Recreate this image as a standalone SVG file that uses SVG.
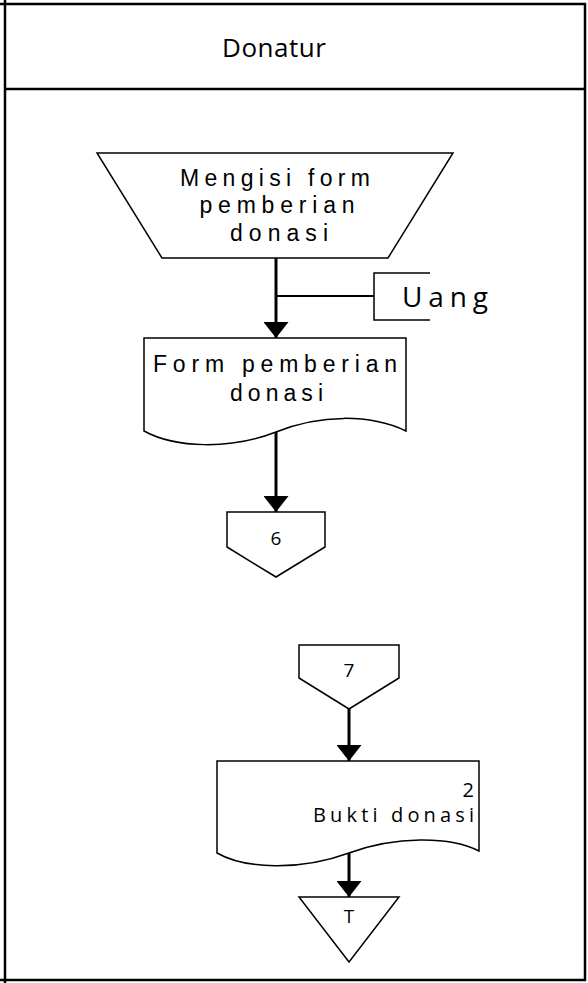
<svg xmlns="http://www.w3.org/2000/svg" width="588" height="983" viewBox="0 0 588 983">
  <style>
    .shape { fill: #ffffff; stroke: #000000; stroke-width: 1.5; }
    .frame { fill: none; stroke: #000000; stroke-width: 2.5; }
    .conn { fill: none; stroke: #000000; stroke-width: 3; }
    .thin { fill: none; stroke: #000000; stroke-width: 2; }
    text { font-family: "Open Sans", "Liberation Sans", Arial, sans-serif; fill: #000000; }
    .ls { font-family: "Liberation Sans", Arial, sans-serif; }
  </style>
  <defs>
    <marker id="arrow" viewBox="0 0 16 25" refX="16" refY="12.5" markerWidth="16" markerHeight="25" markerUnits="userSpaceOnUse" orient="auto">
      <path d="M0,0 L16,12.5 L0,25 Z" fill="#000000"/>
    </marker>
  </defs>
  <rect width="588" height="983" fill="#ffffff"/>

  <g id="swimlane">
    <line class="frame" x1="5" y1="0" x2="5" y2="983"/>
    <line class="frame" x1="0" y1="4" x2="586" y2="4"/>
    <line class="frame" x1="585" y1="3" x2="585" y2="981"/>
    <line class="frame" x1="0" y1="980" x2="586" y2="980"/>
    <line class="frame" x1="5" y1="89" x2="585" y2="89"/>
    <text x="274" y="57" font-size="26" text-anchor="middle" textLength="104" lengthAdjust="spacing">Donatur</text>
  </g>

  <g id="connectors">
    <line class="conn" x1="276" y1="258" x2="276" y2="338" marker-end="url(#arrow)"/>
    <line class="thin" x1="276" y1="296" x2="374" y2="296"/>
    <line class="conn" x1="276" y1="432" x2="276" y2="512" marker-end="url(#arrow)"/>
    <line class="conn" x1="349" y1="709" x2="349" y2="761" marker-end="url(#arrow)"/>
    <line class="conn" x1="349" y1="853" x2="349" y2="897" marker-end="url(#arrow)"/>
  </g>

  <g id="manual-input">
    <polygon class="shape" points="97,153 453,153 388,258 162,258"/>
    <text class="ls" x="275" y="186" font-size="23" text-anchor="middle" textLength="190" lengthAdjust="spacing">Mengisi form</text>
    <text class="ls" x="277" y="213" font-size="23" text-anchor="middle" textLength="155" lengthAdjust="spacing">pemberian</text>
    <text class="ls" x="279" y="241" font-size="23" text-anchor="middle" textLength="98" lengthAdjust="spacing">donasi</text>
  </g>

  <g id="uang">
    <path class="shape" style="fill:none" d="M430,273 H374 V320 H430"/>
    <text x="445" y="307" font-size="28" text-anchor="middle" textLength="86" lengthAdjust="spacing">Uang</text>
  </g>

  <g id="doc-form">
    <path class="shape" d="M144,338 H406 V431 C370,414 320,414 276,432 C230,450 175,448 144,431 Z"/>
    <text class="ls" x="275" y="372" font-size="23" text-anchor="middle" textLength="244" lengthAdjust="spacing">Form pemberian</text>
    <text class="ls" x="276.5" y="401" font-size="23" text-anchor="middle" textLength="93" lengthAdjust="spacing">donasi</text>
  </g>

  <g id="offpage-6">
    <polygon class="shape" points="227,512 325,512 325,547 276,577 227,547"/>
    <text x="276" y="545" font-size="19" text-anchor="middle">6</text>
  </g>

  <g id="offpage-7">
    <polygon class="shape" points="299,645 399,645 399,678 349,709 299,678"/>
    <text x="349" y="677" font-size="19" text-anchor="middle">7</text>
  </g>

  <g id="doc-bukti">
    <path class="shape" d="M217,761 H479 V851 C450,836 395,836 349,853 C300,871 245,869 217,853 Z"/>
    <text x="474" y="797" font-size="20" text-anchor="end">2</text>
    <text x="474" y="822" font-size="20" text-anchor="end" textLength="161" lengthAdjust="spacing">Bukti donasi</text>
  </g>

  <g id="terminator-T">
    <polygon class="shape" points="299,897 399,897 349,962"/>
    <text x="349" y="923" font-size="19" text-anchor="middle">T</text>
  </g>
</svg>
